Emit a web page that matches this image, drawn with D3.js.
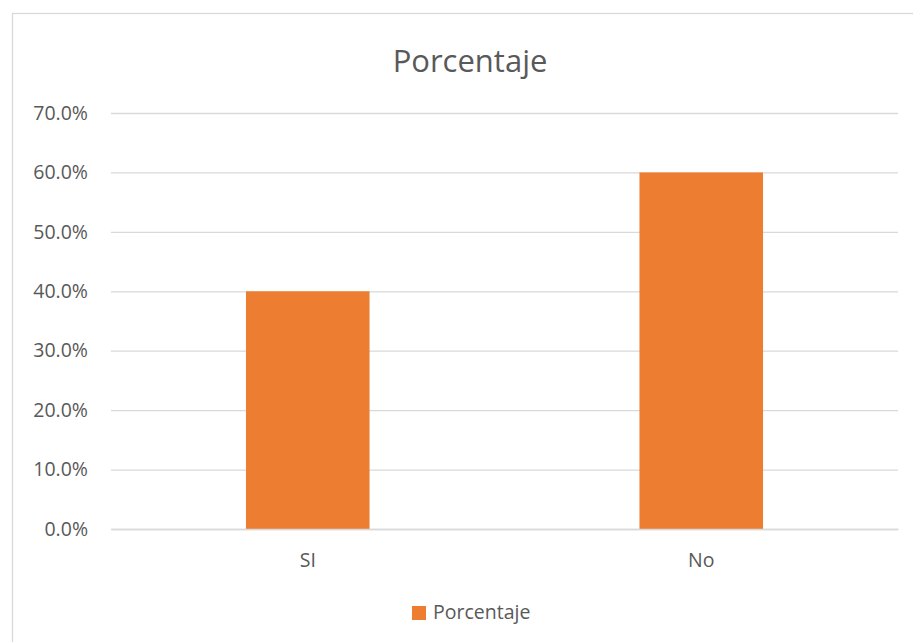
<!DOCTYPE html>
<html><head><meta charset="utf-8">
<script src="https://cdn.jsdelivr.net/npm/d3@7"></script>
<style>html,body{margin:0;padding:0;background:#fff;overflow:hidden}</style>
</head><body>
<svg id="chart" width="913" height="642"></svg>
<script>
const categories = ["SI", "No"];
const values = [0.40, 0.60];
const yTicks = [0, 0.1, 0.2, 0.3, 0.4, 0.5, 0.6, 0.7];
const seriesName = "Porcentaje";
const chartTitle = "Porcentaje";

(function () {
const svg = d3.select("#chart");
const font = "'Open Sans', 'Noto Sans', sans-serif";
const textColor = "#595959";

svg.append("rect").attr("x", 12.5).attr("y", 13.5).attr("width", 920).attr("height", 650)
  .attr("fill", "#fff").attr("stroke", "#d9d9d9").attr("stroke-width", 1.3);

const mLeft = 111, mRight = 898, mTop = 113, mBottom = 529;
const x = d3.scaleBand().domain(categories).range([mLeft, mRight]).paddingInner(0.686).paddingOuter(0.343);
const y = d3.scaleLinear().domain([0, 0.7]).range([mBottom, mTop]);

const yAxis = d3.axisLeft(y).tickValues(yTicks).tickSize(-(mRight - mLeft)).tickPadding(23)
  .tickFormat(d3.format(".1%"));
const gy = svg.append("g").attr("transform", `translate(${mLeft},0)`).call(yAxis);
gy.select(".domain").remove();
gy.selectAll(".tick line").attr("stroke", "#d9d9d9").attr("stroke-width", 1.3);
gy.selectAll(".tick text").attr("fill", textColor).attr("font-family", font).attr("font-size", 19.5);

svg.append("g").selectAll("rect").data(values).join("rect")
  .attr("x", (d, i) => x(categories[i]))
  .attr("width", x.bandwidth())
  .attr("y", d => y(d))
  .attr("height", d => y(0) - y(d))
  .attr("fill", "#ED7D31");

const xAxis = d3.axisBottom(x).tickSize(0).tickPadding(24);
const gx = svg.append("g").attr("transform", `translate(0,${mBottom})`).call(xAxis);
gx.select(".domain").attr("stroke", "#d9d9d9").attr("stroke-width", 1.3);
gx.selectAll(".tick text").attr("fill", textColor).attr("font-family", font).attr("font-size", 19.5);

svg.append("text").attr("x", 470).attr("y", 72).attr("text-anchor", "middle")
  .attr("fill", textColor).attr("font-family", font).attr("font-size", 31).text(chartTitle);

const lg = svg.append("g");
lg.append("rect").attr("x", 412).attr("y", 606).attr("width", 14).attr("height", 14).attr("fill", "#ED7D31");
lg.append("text").attr("x", 433).attr("y", 619).attr("fill", textColor).attr("font-family", font)
  .attr("font-size", 19.5).text(seriesName);
})();
</script>
</body></html>
